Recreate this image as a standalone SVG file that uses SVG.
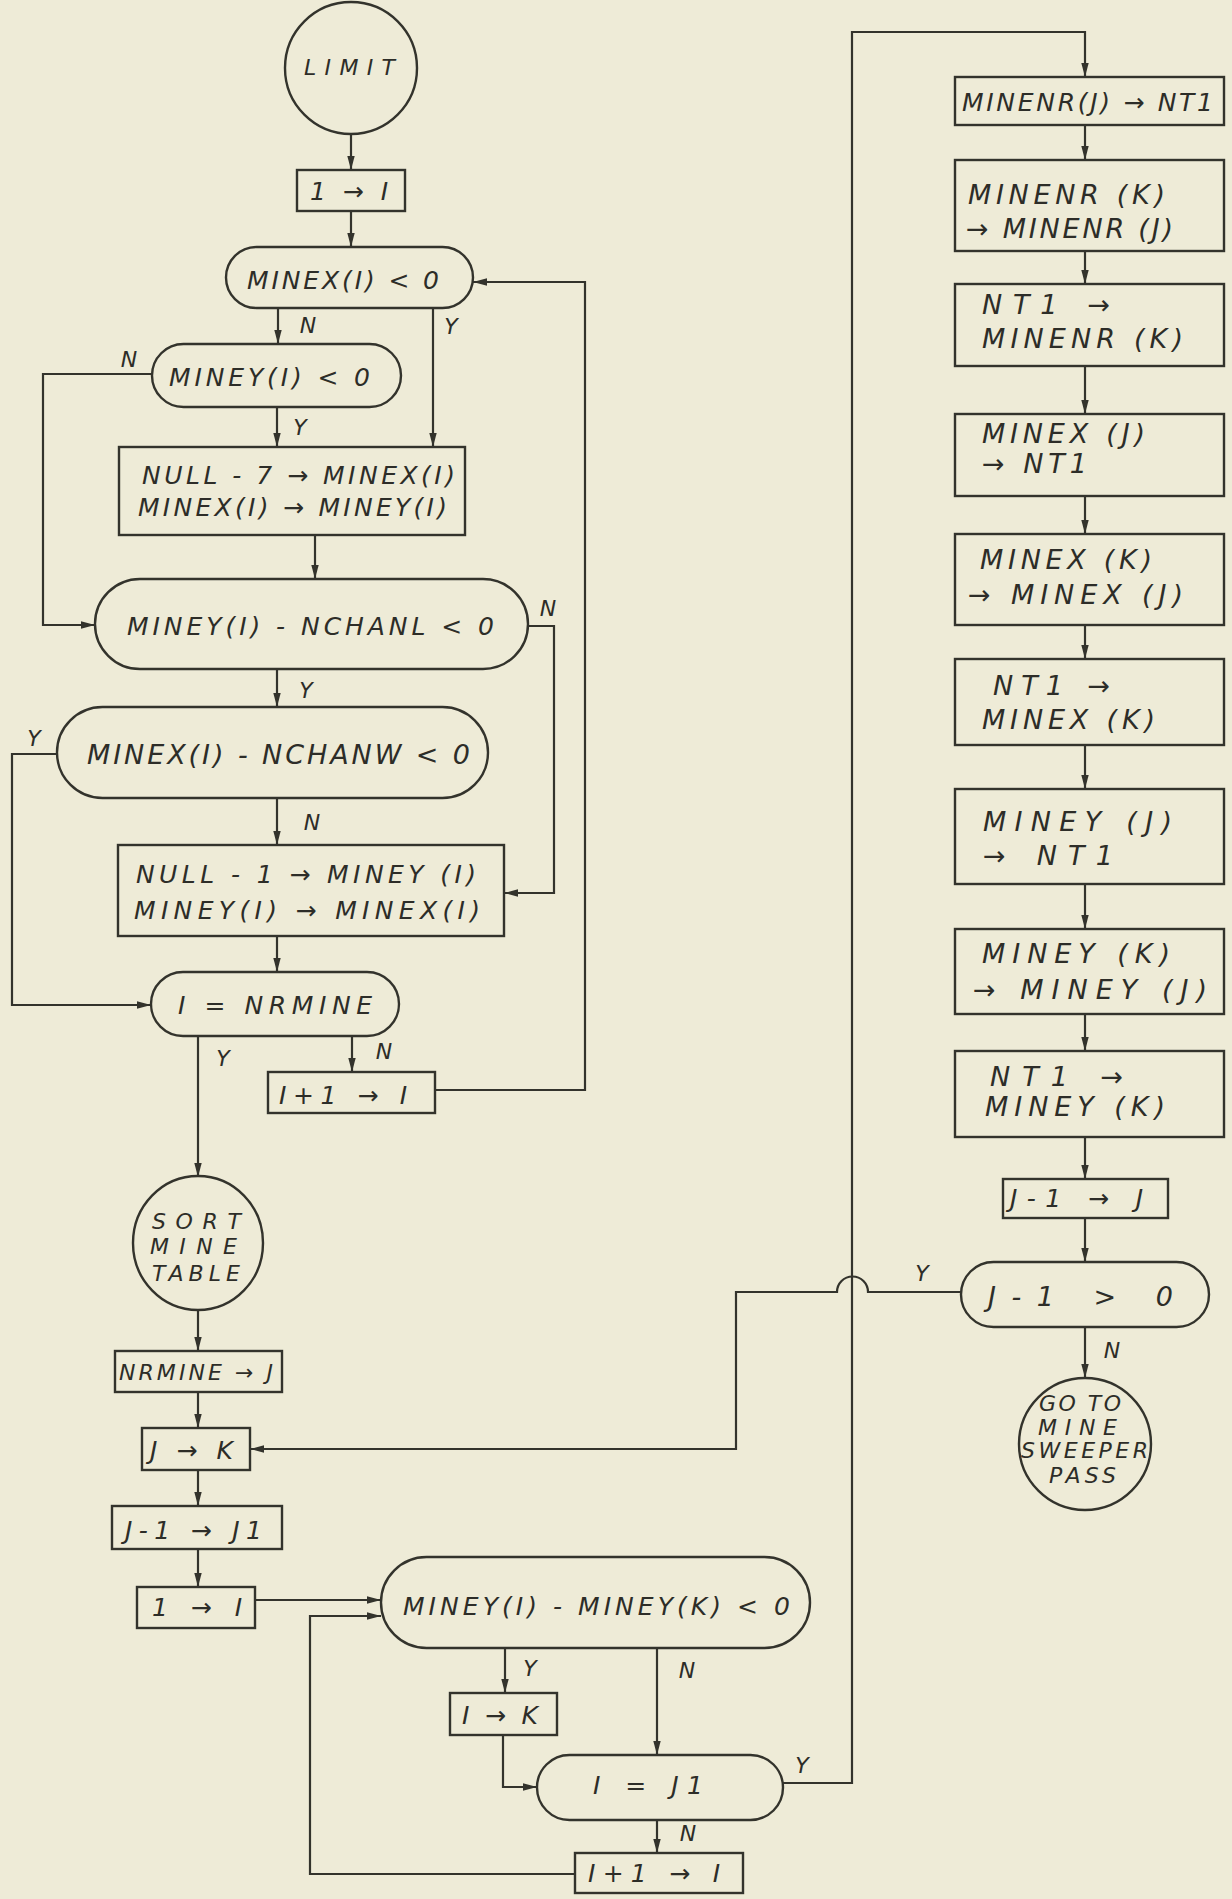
<svg xmlns="http://www.w3.org/2000/svg" width="1232" height="1899" viewBox="0 0 1232 1899">
  <style>
    .bg { fill: #EEEBD7; }
    .shape { fill: none; stroke: #33332c; stroke-width: 2.4; }
    .wire { fill: none; stroke: #33332c; stroke-width: 2.2; stroke-linejoin: miter; }
    .arr { marker-end: url(#head); }
    text { font-family: "DejaVu Sans", "Liberation Sans", sans-serif; font-style: oblique; fill: #2d2d28; font-size: 25px; }
    .sm { font-size: 22px; }
    .lg { font-size: 27px; }
    .lbl { font-size: 22px; text-anchor: middle; }
  </style>
  <defs>
    <marker id="head" markerUnits="userSpaceOnUse" markerWidth="15" markerHeight="9" refX="14" refY="4.5" orient="auto">
      <path d="M0,0.8 L14,4.5 L0,8.2 Z" fill="#33332c"/>
    </marker>
  </defs>

  <rect class="bg" x="0" y="0" width="1232" height="1899"/>

  <!-- connectors -->
  <g id="connectors">
    <path class="wire arr" d="M351,134 V170"/>
    <path class="wire arr" d="M351,211 V247"/>
    <path class="wire arr" d="M278,308 V344"/>
    <path class="wire arr" d="M433,308 V447"/>
    <path class="wire arr" d="M152,374 H43 V625 H95"/>
    <path class="wire arr" d="M277,407 V447"/>
    <path class="wire arr" d="M315,535 V579"/>
    <path class="wire arr" d="M528,626 H554 V893 H504"/>
    <path class="wire arr" d="M277,669 V707"/>
    <path class="wire arr" d="M57,754 H12 V1005 H151"/>
    <path class="wire arr" d="M277,798 V845"/>
    <path class="wire arr" d="M277,936 V972"/>
    <path class="wire arr" d="M198,1036 V1177"/>
    <path class="wire arr" d="M352,1036 V1072"/>
    <path class="wire arr" d="M435,1090 H585 V282 H473"/>
    <path class="wire arr" d="M198,1310 V1351"/>
    <path class="wire arr" d="M198,1392 V1428"/>
    <path class="wire arr" d="M198,1470 V1506"/>
    <path class="wire arr" d="M198,1549 V1587"/>
    <path class="wire arr" d="M255,1600 H381"/>
    <path class="wire arr" d="M575,1874 H310 V1616 H381"/>
    <path class="wire arr" d="M505,1648 V1693"/>
    <path class="wire arr" d="M503,1735 V1787 H537"/>
    <path class="wire arr" d="M657,1648 V1755"/>
    <path class="wire arr" d="M783,1783 H852 V32 H1085 V77"/>
    <path class="wire arr" d="M657,1820 V1853"/>
    <path class="wire arr" d="M1085,125 V160"/>
    <path class="wire arr" d="M1085,251 V284"/>
    <path class="wire arr" d="M1085,366 V414"/>
    <path class="wire arr" d="M1085,496 V534"/>
    <path class="wire arr" d="M1085,625 V659"/>
    <path class="wire arr" d="M1085,745 V789"/>
    <path class="wire arr" d="M1085,884 V929"/>
    <path class="wire arr" d="M1085,1014 V1051"/>
    <path class="wire arr" d="M1085,1137 V1179"/>
    <path class="wire arr" d="M1085,1218 V1262"/>
    <path class="wire arr" d="M1085,1327 V1378"/>
    <path class="wire arr" d="M961,1292 H868 A15.5,15.5 0 0 0 837,1292 H736 V1449 H250"/>

    <text class="lbl" x="308" y="333">N</text>
    <text class="lbl" x="451" y="334">Y</text>
    <text class="lbl" x="129" y="367">N</text>
    <text class="lbl" x="300" y="435">Y</text>
    <text class="lbl" x="548" y="616">N</text>
    <text class="lbl" x="306" y="698">Y</text>
    <text class="lbl" x="34" y="746">Y</text>
    <text class="lbl" x="312" y="830">N</text>
    <text class="lbl" x="223" y="1066">Y</text>
    <text class="lbl" x="384" y="1059">N</text>
    <text class="lbl" x="922" y="1281">Y</text>
    <text class="lbl" x="1112" y="1358">N</text>
    <text class="lbl" x="530" y="1676">Y</text>
    <text class="lbl" x="687" y="1678">N</text>
    <text class="lbl" x="802" y="1773">Y</text>
    <text class="lbl" x="688" y="1841">N</text>
  </g>

  <!-- left column: limit check -->
  <g id="limit">
    <ellipse class="shape" cx="351" cy="68" rx="66" ry="66"/>
    <text class="sm" x="304" y="75" textLength="91" lengthAdjust="spacing">LIMIT</text>
  </g>
  <g id="init-i">
    <rect class="shape" x="297" y="170" width="108" height="41"/>
    <text x="310" y="200" textLength="78" lengthAdjust="spacing">1 → I</text>
  </g>
  <g id="test-minex">
    <rect class="shape" x="226" y="247" width="247" height="61" rx="30.5"/>
    <text x="247" y="289" textLength="192" lengthAdjust="spacing">MINEX(I) &lt; 0</text>
  </g>
  <g id="test-miney">
    <rect class="shape" x="152" y="344" width="249" height="63" rx="31.5"/>
    <text x="169" y="386" textLength="201" lengthAdjust="spacing">MINEY(I) &lt; 0</text>
  </g>
  <g id="null7">
    <rect class="shape" x="119" y="447" width="346" height="88"/>
    <text x="142" y="484" textLength="313" lengthAdjust="spacing">NULL - 7 → MINEX(I)</text>
    <text x="138" y="516" textLength="309" lengthAdjust="spacing">MINEX(I) → MINEY(I)</text>
  </g>
  <g id="test-nchanl">
    <rect class="shape" x="95" y="579" width="433" height="90" rx="45"/>
    <text x="127" y="635" textLength="367" lengthAdjust="spacing">MINEY(I) - NCHANL  &lt; 0</text>
  </g>
  <g id="test-nchanw">
    <rect class="shape" x="57" y="707" width="431" height="91" rx="45.5"/>
    <text class="lg" x="87" y="764" textLength="383" lengthAdjust="spacing">MINEX(I) - NCHANW &lt; 0</text>
  </g>
  <g id="null1">
    <rect class="shape" x="118" y="845" width="386" height="91"/>
    <text x="136" y="883" textLength="340" lengthAdjust="spacing">NULL - 1 → MINEY (I)</text>
    <text x="134" y="919" textLength="346" lengthAdjust="spacing">MINEY(I) → MINEX(I)</text>
  </g>
  <g id="test-nrmine">
    <rect class="shape" x="151" y="972" width="248" height="64" rx="32"/>
    <text x="178" y="1014" textLength="194" lengthAdjust="spacing">I = NRMINE</text>
  </g>
  <g id="incr-i">
    <rect class="shape" x="268" y="1072" width="167" height="41"/>
    <text x="279" y="1104" textLength="128" lengthAdjust="spacing">I+1 → I</text>
  </g>

  <!-- left column: sort -->
  <g id="sort-table">
    <ellipse class="shape" cx="198" cy="1243" rx="65" ry="67"/>
    <text class="sm" x="152" y="1229" textLength="89" lengthAdjust="spacing">SORT</text>
    <text class="sm" x="150" y="1254" textLength="87" lengthAdjust="spacing">MINE</text>
    <text class="sm" x="152" y="1281" textLength="88" lengthAdjust="spacing">TABLE</text>
  </g>
  <g id="nrmine-j">
    <rect class="shape" x="115" y="1351" width="167" height="41"/>
    <text class="sm" x="119" y="1380" textLength="154" lengthAdjust="spacing">NRMINE → J</text>
  </g>
  <g id="j-k">
    <rect class="shape" x="142" y="1428" width="108" height="42"/>
    <text x="150" y="1459" textLength="83" lengthAdjust="spacing">J → K</text>
  </g>
  <g id="j1">
    <rect class="shape" x="112" y="1506" width="170" height="43"/>
    <text x="125" y="1539" textLength="137" lengthAdjust="spacing">J-1 → J1</text>
  </g>
  <g id="reset-i">
    <rect class="shape" x="137" y="1587" width="118" height="41"/>
    <text x="152" y="1616" textLength="90" lengthAdjust="spacing">1 → I</text>
  </g>
  <g id="test-miney-k">
    <rect class="shape" x="381" y="1557" width="429" height="91" rx="45.5"/>
    <text x="403" y="1615" textLength="387" lengthAdjust="spacing">MINEY(I) - MINEY(K) &lt; 0</text>
  </g>
  <g id="i-k">
    <rect class="shape" x="450" y="1693" width="107" height="42"/>
    <text x="462" y="1724" textLength="76" lengthAdjust="spacing">I → K</text>
  </g>
  <g id="test-j1">
    <rect class="shape" x="537" y="1755" width="246" height="65" rx="32.5"/>
    <text x="593" y="1794" textLength="110" lengthAdjust="spacing">I = J1</text>
  </g>
  <g id="incr-i-2">
    <rect class="shape" x="575" y="1853" width="168" height="40"/>
    <text x="588" y="1882" textLength="132" lengthAdjust="spacing">I+1 → I</text>
  </g>

  <!-- right column: swap entries J and K -->
  <g id="swap-nr-1">
    <rect class="shape" x="955" y="77" width="269" height="48"/>
    <text x="962" y="111" textLength="251" lengthAdjust="spacing">MINENR(J) → NT1</text>
  </g>
  <g id="swap-nr-2">
    <rect class="shape" x="955" y="160" width="269" height="91"/>
    <text class="lg" x="968" y="204" textLength="197" lengthAdjust="spacing">MINENR (K)</text>
    <text class="lg" x="966" y="238" textLength="207" lengthAdjust="spacing">→ MINENR (J)</text>
  </g>
  <g id="swap-nr-3">
    <rect class="shape" x="955" y="284" width="269" height="82"/>
    <text class="lg" x="982" y="314" textLength="128" lengthAdjust="spacing">NT1  →</text>
    <text class="lg" x="982" y="348" textLength="201" lengthAdjust="spacing">MINENR (K)</text>
  </g>
  <g id="swap-x-1">
    <rect class="shape" x="955" y="414" width="269" height="82"/>
    <text class="lg" x="982" y="443" textLength="163" lengthAdjust="spacing">MINEX (J)</text>
    <text class="lg" x="982" y="473" textLength="105" lengthAdjust="spacing">→  NT1</text>
  </g>
  <g id="swap-x-2">
    <rect class="shape" x="955" y="534" width="269" height="91"/>
    <text class="lg" x="980" y="569" textLength="172" lengthAdjust="spacing">MINEX (K)</text>
    <text class="lg" x="968" y="604" textLength="215" lengthAdjust="spacing">→ MINEX (J)</text>
  </g>
  <g id="swap-x-3">
    <rect class="shape" x="955" y="659" width="269" height="86"/>
    <text class="lg" x="993" y="695" textLength="117" lengthAdjust="spacing">NT1 →</text>
    <text class="lg" x="982" y="729" textLength="173" lengthAdjust="spacing">MINEX (K)</text>
  </g>
  <g id="swap-y-1">
    <rect class="shape" x="955" y="789" width="269" height="95"/>
    <text class="lg" x="983" y="831" textLength="189" lengthAdjust="spacing">MINEY (J)</text>
    <text class="lg" x="983" y="865" textLength="130" lengthAdjust="spacing">→  NT1</text>
  </g>
  <g id="swap-y-2">
    <rect class="shape" x="955" y="929" width="269" height="85"/>
    <text class="lg" x="982" y="963" textLength="188" lengthAdjust="spacing">MINEY (K)</text>
    <text class="lg" x="973" y="999" textLength="234" lengthAdjust="spacing">→ MINEY (J)</text>
  </g>
  <g id="swap-y-3">
    <rect class="shape" x="955" y="1051" width="269" height="86"/>
    <text class="lg" x="990" y="1086" textLength="133" lengthAdjust="spacing">NT1 →</text>
    <text class="lg" x="985" y="1116" textLength="180" lengthAdjust="spacing">MINEY (K)</text>
  </g>
  <g id="decr-j">
    <rect class="shape" x="1003" y="1179" width="165" height="39"/>
    <text x="1010" y="1207" textLength="133" lengthAdjust="spacing">J-1 → J</text>
  </g>
  <g id="test-j">
    <rect class="shape" x="961" y="1262" width="248" height="65" rx="32.5"/>
    <text class="lg" x="988" y="1306" textLength="185" lengthAdjust="spacing">J-1  &gt; 0</text>
  </g>
  <g id="sweeper-pass">
    <ellipse class="shape" cx="1085" cy="1444" rx="66" ry="66"/>
    <text class="sm" x="1039" y="1411" textLength="82" lengthAdjust="spacing">GO TO</text>
    <text class="sm" x="1038" y="1435" textLength="79" lengthAdjust="spacing">MINE</text>
    <text class="sm" x="1021" y="1458" textLength="127" lengthAdjust="spacing">SWEEPER</text>
    <text class="sm" x="1049" y="1483" textLength="67" lengthAdjust="spacing">PASS</text>
  </g>
</svg>
